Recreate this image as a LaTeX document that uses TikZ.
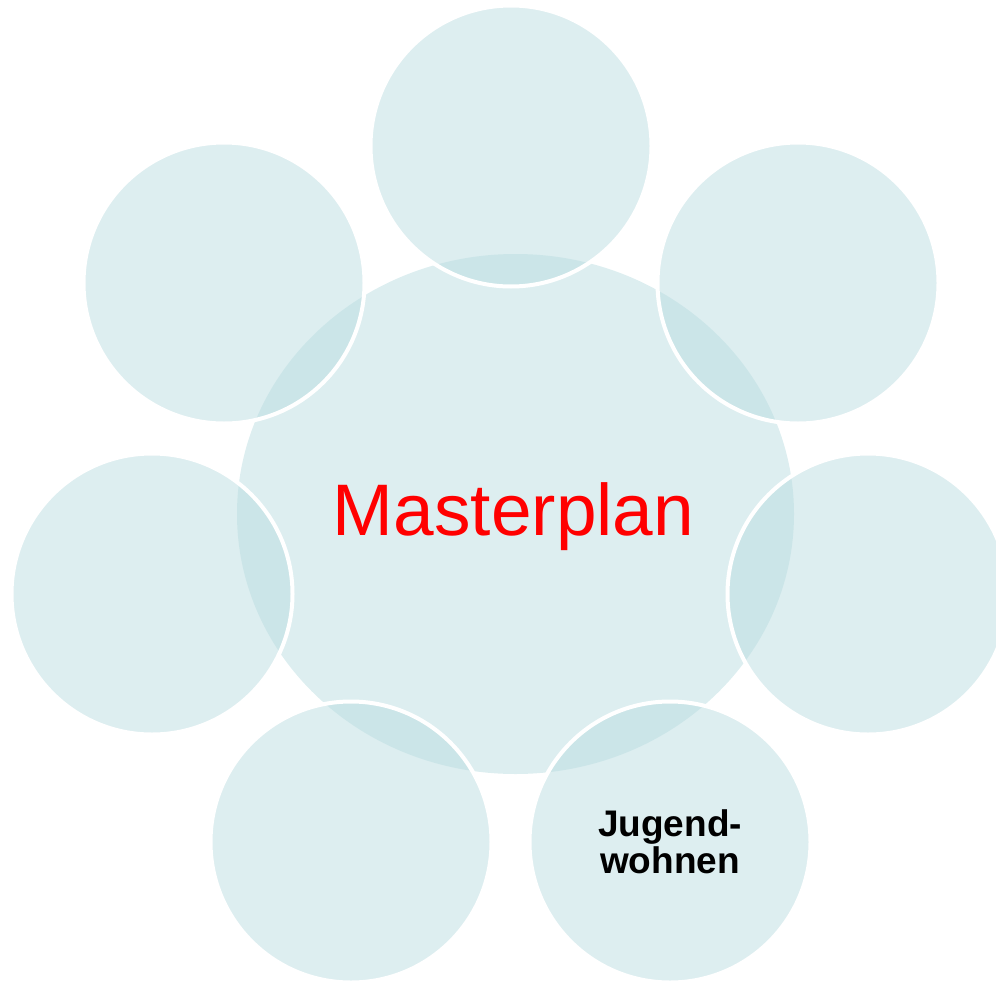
\documentclass[tikz,border=0pt]{standalone}
\usepackage{fontspec}
\setmainfont{Liberation Sans}
\definecolor{basefill}{HTML}{DDEEF0}
\definecolor{outerfill}{HTML}{BBDDE1}
\definecolor{mred}{HTML}{FF0000}
\begin{document}
\begin{tikzpicture}[x=0.75pt,y=-0.75pt,
  outercirc/.style={fill=outerfill,fill opacity=0.5,draw=white,line width=3pt},
  centerellipse/.style={fill=basefill,draw=none}]
\useasboundingbox (0,0) rectangle (996,981);
\path[centerellipse] (515.5,514) ellipse [x radius=278.5, y radius=260];
\node[font=\fontsize{54.75}{60}\selectfont,text=mred,anchor=base,inner sep=0] (master) at (513.5,535) {Masterplan};
\path[outercirc] (511,146) circle [radius=140.5];
\path[outercirc] (798,283) circle [radius=140.5];
\path[outercirc] (868,594) circle [radius=140.5];
\path[outercirc] (670,842) circle [radius=140.5];
\path[outercirc] (351,842) circle [radius=140.5];
\path[outercirc] (152,594) circle [radius=140.5];
\path[outercirc] (224,283) circle [radius=140.5];
\node[font=\bfseries\fontsize{27.75}{27.75}\selectfont,align=center,inner sep=0,anchor=base] (jugend) at (670,873) {Jugend-\\wohnen};
\end{tikzpicture}
\end{document}
